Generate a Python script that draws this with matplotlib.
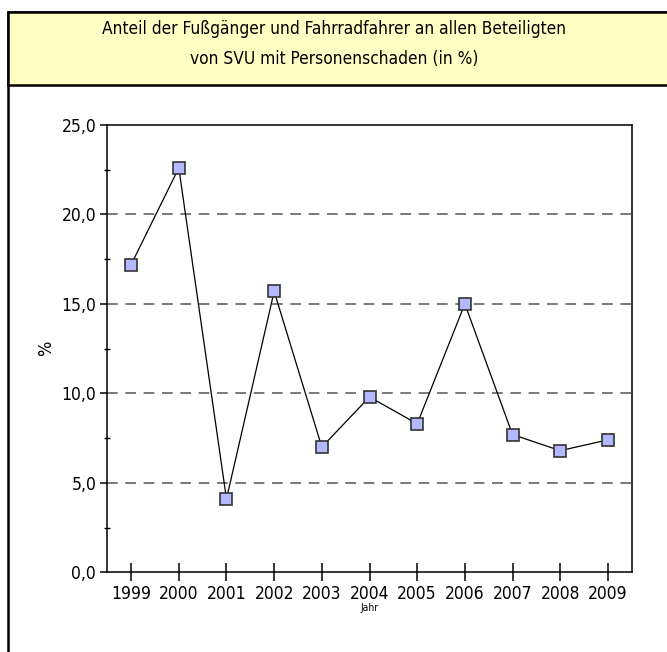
import matplotlib
matplotlib.use("Agg")
import matplotlib.pyplot as plt
from matplotlib.patches import Rectangle
from matplotlib.ticker import MultipleLocator, FuncFormatter

plt.rcParams['font.family'] = ['DejaVu Sans']
plt.rcParams['font.stretch'] = 'condensed'

# Anteil in % je Jahr
jahre = ['1999', '2000', '2001', '2002', '2003', '2004', '2005', '2006', '2007', '2008', '2009']
anteil = [17.2, 22.6, 4.1, 15.7, 7.0, 9.8, 8.3, 15.0, 7.7, 6.8, 7.4]

titel = "Anteil der Fußgänger und Fahrradfahrer an allen Beteiligten\nvon SVU mit Personenschaden (in %)"

W, H = 667, 652
fig = plt.figure(figsize=(W / 100, H / 100), dpi=100)

# Rahmen und gelbe Titelbox
fig.patches.append(Rectangle((8 / W, -0.05), 1.0, (H - 12) / H + 0.05,
                             transform=fig.transFigure, fill=False,
                             edgecolor='black', lw=1.8, zorder=0))
fig.patches.append(Rectangle((8 / W, (H - 85) / H), 1.0, 73 / H,
                             transform=fig.transFigure, facecolor='#ffffc4',
                             edgecolor='black', lw=1.8, zorder=1))
fig.text(334 / W, (H - 44) / H, titel, ha='center', va='center',
         fontsize=12.4, linespacing=1.85)

ax = fig.add_axes([107.3 / W, 79.7 / H, 524.4 / W, 447.3 / H])
x = list(range(len(jahre)))
ax.plot(x, anteil, color='black', lw=0.9, marker='s', markersize=9,
        markerfacecolor='#b3b8ff', markeredgecolor='#333333',
        markeredgewidth=1.2, zorder=3)

ax.set_xlim(-0.5, len(jahre) - 0.5)
ax.set_ylim(0, 25)
ax.set_xticks(x)
ax.set_xticklabels(jahre)
ax.yaxis.set_major_locator(MultipleLocator(5))
ax.yaxis.set_minor_locator(MultipleLocator(2.5))
ax.yaxis.set_major_formatter(FuncFormatter(lambda v, p: f"{v:.1f}".replace('.', ',')))

for g in [5, 10, 15, 20]:
    ax.axhline(g, color='#555555', lw=1.1, ls=(0, (7, 5)), zorder=1)

ax.tick_params(axis='x', direction='inout', length=13, width=1.1,
               labelsize=12.5, pad=3)
ax.tick_params(axis='y', which='major', direction='out', length=5,
               width=1.1, labelsize=12.5, pad=3)
ax.tick_params(axis='y', which='minor', direction='inout', length=4, width=1.0)

for s in ax.spines.values():
    s.set_linewidth(1.1)

ax.set_xlabel('Jahr', fontsize=7.5, labelpad=0)
ax.set_ylabel('%', fontsize=13)
ax.yaxis.set_label_coords(-0.1, 0.5)

fig.savefig('out.png', dpi=100)
